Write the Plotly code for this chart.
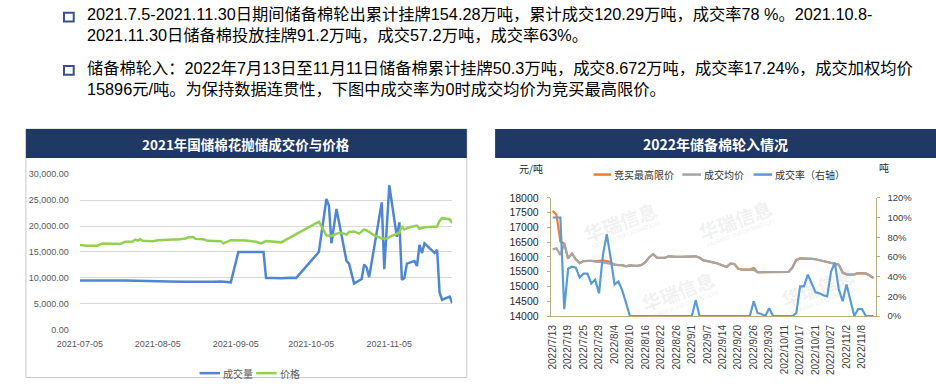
import plotly.graph_objects as go

W, H = 936, 384
def px(x): return x / W
def py(y): return 1 - y / H

FONT = "Noto Sans CJK SC, Noto Sans, sans-serif"
TEXT_FONT = "Liberation Sans, Noto Sans CJK SC, sans-serif"

# ---------------- top text ----------------
text_lines = [
    "2021.7.5-2021.11.30日期间储备棉轮出累计挂牌154.28万吨，累计成交120.29万吨，成交率78 %。2021.10.8-",
    "2021.11.30日储备棉投放挂牌91.2万吨，成交57.2万吨，成交率63%。",
    "储备棉轮入：2022年7月13日至11月11日储备棉累计挂牌50.3万吨，成交8.672万吨，成交率17.24%，成交加权均价",
    "15896元/吨。为保持数据连贯性，下图中成交率为0时成交均价为竞买最高限价。",
]

# ---------------- left chart (2021) ----------------
left_title = "2021年国储棉花抛储成交价与价格"
vol_name = "成交量"
price_name = "价格"
vol_dates = [
    "2021-07-05", "2021-07-09", "2021-07-15", "2021-07-23", "2021-07-30", "2021-08-04",
    "2021-08-09", "2021-08-16", "2021-08-23", "2021-08-27", "2021-08-30", "2021-09-02",
    "2021-09-03", "2021-09-06", "2021-09-09", "2021-09-13", "2021-09-16", "2021-09-17",
    "2021-09-20", "2021-09-23", "2021-09-27", "2021-09-29", "2021-10-08", "2021-10-11",
    "2021-10-12", "2021-10-13", "2021-10-15", "2021-10-17", "2021-10-19", "2021-10-20",
    "2021-10-22", "2021-10-25", "2021-10-26", "2021-10-27", "2021-10-28", "2021-11-02",
    "2021-11-03", "2021-11-05", "2021-11-08", "2021-11-09", "2021-11-10", "2021-11-11",
    "2021-11-12", "2021-11-14", "2021-11-15", "2021-11-16", "2021-11-17", "2021-11-18",
    "2021-11-19", "2021-11-23", "2021-11-24", "2021-11-25", "2021-11-26", "2021-11-29",
    "2021-11-30",
]
vol_values = [
    9500, 9550, 9500, 9500, 9480, 9400,
    9330, 9250, 9200, 9250, 9300, 9200,
    9150, 15000, 15050, 15000, 15000, 10000,
    10000, 9950, 10050, 10000, 15000, 25200,
    23950, 16650, 23300, 18200, 13250, 12750,
    8900, 9800, 12600, 12000, 10150, 24550,
    11700, 27850, 17900, 20700, 9650, 10000,
    12750, 13100, 13250, 12300, 16350, 14800,
    16650, 14800, 15400, 7150, 5800, 6400,
    5150,
]
price_dates = [
    "2021-07-05", "2021-07-08", "2021-07-12", "2021-07-14", "2021-07-19", "2021-07-21",
    "2021-07-23", "2021-07-26", "2021-07-27", "2021-07-28", "2021-07-29", "2021-07-30",
    "2021-08-03", "2021-08-05", "2021-08-11", "2021-08-13", "2021-08-16", "2021-08-17",
    "2021-08-19", "2021-08-20", "2021-08-23", "2021-08-24", "2021-08-25", "2021-08-30",
    "2021-08-31", "2021-09-03", "2021-09-06", "2021-09-09", "2021-09-13", "2021-09-15",
    "2021-09-17", "2021-09-23", "2021-10-08", "2021-10-11", "2021-10-13", "2021-10-15",
    "2021-10-17", "2021-10-19", "2021-10-20", "2021-10-22", "2021-10-24", "2021-10-26",
    "2021-10-27", "2021-10-30", "2021-11-02", "2021-11-04", "2021-11-06", "2021-11-09",
    "2021-11-10", "2021-11-11", "2021-11-13", "2021-11-16", "2021-11-17", "2021-11-19",
    "2021-11-24", "2021-11-25", "2021-11-26", "2021-11-28", "2021-11-29", "2021-11-30",
]
price_values = [
    16340, 16220, 16220, 16650, 16600, 16530,
    16960, 17020, 17390, 17200, 17450, 17140,
    17080, 17270, 17390, 17390, 17580, 17830,
    17890, 17520, 17450, 17270, 17140, 17080,
    16650, 17270, 17280, 17200, 16960, 16660,
    17090, 16850, 20820, 18210, 18090, 18530,
    18710, 18340, 18840, 18960, 18530, 19330,
    19140, 18210, 17590, 17590, 18090, 18710,
    19960, 19330, 19770, 20080, 19460, 19770,
    19900, 21010, 21510, 21310, 21310, 20580,
]
left_ticks = ["2021-07-05", "2021-08-05", "2021-09-05", "2021-10-05", "2021-11-05"]

# ---------------- right chart (2022) ----------------
right_title = "2022年储备棉轮入情况"
max_name = "竞买最高限价"
avg_name = "成交均价"
rate_name = "成交率（右轴）"
cats = [
    "2022/7/13", "2022/7/14", "2022/7/15", "2022/7/18", "2022/7/19", "2022/7/20", "2022/7/21",
    "2022/7/22", "2022/7/25", "2022/7/26", "2022/7/27", "2022/7/28", "2022/7/29", "2022/8/1",
    "2022/8/2", "2022/8/3", "2022/8/4", "2022/8/5", "2022/8/8", "2022/8/9", "2022/8/10",
    "2022/8/11", "2022/8/12", "2022/8/15", "2022/8/16", "2022/8/17", "2022/8/18", "2022/8/19",
    "2022/8/22", "2022/8/23", "2022/8/24", "2022/8/25", "2022/8/26", "2022/8/29", "2022/8/30",
    "2022/8/31", "2022/9/1", "2022/9/2", "2022/9/5", "2022/9/6", "2022/9/7", "2022/9/8",
    "2022/9/9", "2022/9/13", "2022/9/14", "2022/9/15", "2022/9/16", "2022/9/19", "2022/9/20",
    "2022/9/21", "2022/9/22", "2022/9/23", "2022/9/26", "2022/9/27", "2022/9/28", "2022/9/29",
    "2022/9/30", "2022/10/8", "2022/10/9", "2022/10/10", "2022/10/11", "2022/10/12", "2022/10/13",
    "2022/10/14", "2022/10/17", "2022/10/18", "2022/10/19", "2022/10/20", "2022/10/21", "2022/10/24",
    "2022/10/25", "2022/10/26", "2022/10/27", "2022/10/28", "2022/10/31", "2022/11/1", "2022/11/2",
    "2022/11/3", "2022/11/4", "2022/11/7", "2022/11/8", "2022/11/9", "2022/11/10", "2022/11/11",
]
avg_price = [
    16260, 16290, 16070, 16450, 15950, 16110, 15920,
    15790, 15860, 15870, 15870, 15850, 15820, 15810,
    15790, 15760, 15730, 15720, 15720, 15680, 15710,
    15700, 15700, 15730, 15820, 15990, 16090, 15970,
    15960, 15970, 16020, 16000, 16000, 16000, 16000,
    16000, 16000, 16020, 15970, 15880, 15860, 15840,
    15800, 15760, 15700, 15660, 15770, 15760, 15600,
    15570, 15570, 15570, 15560, 15480, 15480, 15480,
    15480, 15480, 15480, 15480, 15480, 15490, 15640,
    15900, 15950, 15950, 15940, 15930, 15920, 15890,
    15870, 15840, 15800, 15780, 15740, 15470, 15410,
    15400, 15410, 15450, 15440, 15440, 15370, 15280,
]
max_price = [
    17560, 17420, 16520, 16450, 15950, 16110, 15920,
    15790, 15860, 15870, 15870, 15850, 15870, 15880,
    15860, 15830, 15730, 15720, 15720, 15680, 15710,
    15700, 15700, 15730, 15820, 15990, 16090, 15970,
    15960, 15970, 16020, 16000, 16000, 16000, 16000,
    16000, 16000, 16020, 15970, 15880, 15860, 15840,
    15800, 15760, 15700, 15660, 15770, 15760, 15600,
    15570, 15570, 15570, 15620, 15480, 15480, 15480,
    15480, 15480, 15480, 15480, 15480, 15490, 15640,
    15900, 15950, 15950, 15940, 15930, 15920, 15890,
    15870, 15840, 15800, 15780, 15740, 15470, 15410,
    15400, 15410, 15450, 15440, 15440, 15370, 15280,
]
deal_rate = [
    100, 100, 100, 7, 48, 50, 49,
    39, 43, 43, 33, 37, 23, 62,
    83, 59, 32, 35, 26, 13, 0,
    0, 0, 0, 0, 0, 0, 0,
    0, 0, 0, 0, 0, 0, 0,
    0, 0, 16, 0, 0, 0, 0,
    0, 0, 0, 0, 0, 0, 0,
    0, 0, 0, 15, 3, 2, 0,
    8, 0, 0, 0, 0, 0, 0,
    3, 30, 30, 42, 33, 24, 23,
    21, 20, 45, 54, 27, 15, 32,
    16, 0, 7, 7, 0, 0, 0,
]

C_VOL = "#4e86d4"
C_PRICE = "#92d050"
C_MAX = "#ed7d31"
C_AVG = "#a5a5a5"
C_RATE = "#5b9bd5"
NAVY = "#1f3864"
AXC = "#b8ab80"

fig = go.Figure()

# left traces
fig.add_trace(go.Scatter(x=vol_dates, y=vol_values, name=vol_name, mode="lines",
                         line=dict(color=C_VOL, width=2.5), xaxis="x", yaxis="y", showlegend=False))
fig.add_trace(go.Scatter(x=price_dates, y=price_values, name=price_name, mode="lines",
                         line=dict(color=C_PRICE, width=2.5), xaxis="x", yaxis="y", showlegend=False))
# right traces
fig.add_trace(go.Scatter(x=cats, y=max_price, name=max_name, mode="lines",
                         line=dict(color=C_MAX, width=2.2), xaxis="x2", yaxis="y2", showlegend=False))
fig.add_trace(go.Scatter(x=cats, y=avg_price, name=avg_name, mode="lines",
                         line=dict(color=C_AVG, width=2.2), xaxis="x2", yaxis="y2", showlegend=False))
fig.add_trace(go.Scatter(x=cats, y=deal_rate, name=rate_name, mode="lines",
                         line=dict(color=C_RATE, width=2.2), xaxis="x2", yaxis="y3", showlegend=False))

tickfont_l = dict(family="Liberation Sans, Noto Sans CJK SC", size=9, color="#595959")
tickfont_r = dict(family="Liberation Sans, Noto Sans CJK SC", size=10, color="#404040")

fig.update_layout(
    width=W, height=H, autosize=False,
    margin=dict(l=0, r=0, t=0, b=0),
    paper_bgcolor="white", plot_bgcolor="rgba(0,0,0,0)",
    font=dict(family=FONT),
    showlegend=False,
    xaxis=dict(type="date", domain=[px(58.3), px(440)], anchor="y",
               range=["2021-07-05", "2021-11-30"],
               tickvals=left_ticks, ticktext=left_ticks, tickfont=tickfont_l,
               showgrid=False, zeroline=False, showline=False, ticks="",
               ticklabelstandoff=7),
    yaxis=dict(domain=[py(334.3), py(173.5)], anchor="x", range=[0, 30000], dtick=5000,
               tickformat=",.2f", tickfont=tickfont_l, gridcolor="#d9d9d9", gridwidth=1.2,
               zeroline=False, showline=False, ticks="", ticklabelstandoff=10),
    xaxis2=dict(type="category", domain=[px(541), px(874)], anchor="y2",
                range=[-0.5, len(cats) - 0.5],
                tickvals=cats[::4], ticktext=cats[::4], tickangle=-90, tickfont=tickfont_r,
                showline=True, linecolor=AXC, linewidth=1, showgrid=False, zeroline=False,
                ticks="", ticklabelstandoff=4),
    yaxis2=dict(domain=[py(320), py(198)], anchor="x2", range=[14000, 18000], dtick=500,
                tickformat="d",
                tickfont=dict(family="Liberation Sans, Noto Sans CJK SC", size=10.5, color="#262626"),
                showline=True, linecolor=AXC, linewidth=1, ticks="outside", ticklen=3,
                tickcolor=AXC, showgrid=False, zeroline=False, ticklabelstandoff=6),
    yaxis3=dict(overlaying="y2", side="right", anchor="x2", range=[0, 120], dtick=20,
                tickformat="d", ticksuffix="%",
                tickfont=dict(family="Liberation Sans, Noto Sans CJK SC", size=9.5, color="#404040"),
                showline=True, linecolor=AXC, linewidth=1, ticks="outside", ticklen=3,
                tickcolor=AXC, showgrid=False, zeroline=False, ticklabelstandoff=6),
)

shapes = []
ann = []

# bullets + paragraph text (one annotation per bullet, lines joined with <br>)
for yb, (l1, l2), yc in ((7, text_lines[0:2], 19), (62, text_lines[2:4], 74.5)):
    shapes.append(dict(type="rect", xref="paper", yref="paper", x0=px(42), x1=px(52),
                       y0=py(yb + 9), y1=py(yb), line=dict(color="#3a4f8e", width=2),
                       fillcolor="white"))
    ann.append(dict(text=l1 + "<br>" + l2, x=px(64), y=py(yc), xref="paper", yref="paper",
                    xanchor="left", yanchor="middle", align="left", showarrow=False,
                    font=dict(family=TEXT_FONT, size=16.25, color="#000000")))

# left frame + title bar
shapes.append(dict(type="rect", xref="paper", yref="paper", x0=px(3), x1=px(455),
                   y0=py(383.5), y1=py(127), line=dict(color="#c8c8c8", width=1), fillcolor="rgba(0,0,0,0)"))
shapes.append(dict(type="rect", xref="paper", yref="paper", x0=px(3), x1=px(455),
                   y0=py(157), y1=py(127), line=dict(width=0), fillcolor=NAVY))
ann.append(dict(text="<b>" + left_title + "</b>", x=px(229), y=py(142), xref="paper", yref="paper",
                xanchor="center", yanchor="middle", showarrow=False,
                font=dict(family=FONT, size=13.5, color="white")))

# right title bar
shapes.append(dict(type="rect", xref="paper", yref="paper", x0=px(484), x1=px(936),
                   y0=py(157), y1=py(127), line=dict(width=0), fillcolor=NAVY))
ann.append(dict(text="<b>" + right_title + "</b>", x=px(710), y=py(142), xref="paper", yref="paper",
                xanchor="center", yanchor="middle", showarrow=False,
                font=dict(family=FONT, size=14, color="white")))

# unit labels
ann.append(dict(text="元/吨", x=px(506), y=py(168), xref="paper", yref="paper",
                xanchor="left", yanchor="middle", showarrow=False,
                font=dict(family=FONT, size=10, color="#262626")))
ann.append(dict(text="吨", x=px(876), y=py(167), xref="paper", yref="paper",
                xanchor="left", yanchor="middle", showarrow=False,
                font=dict(family=FONT, size=10, color="#262626")))

# manual legends
def legend_item(x0, x1, y, color, label, fcolor):
    shapes.append(dict(type="line", xref="paper", yref="paper", x0=px(x0), x1=px(x1),
                       y0=py(y), y1=py(y), line=dict(color=color, width=2.5)))
    ann.append(dict(text=label, x=px(x1 + 1), y=py(y), xref="paper", yref="paper",
                    xanchor="left", yanchor="middle", showarrow=False,
                    font=dict(family=FONT, size=10, color=fcolor)))

legend_item(181, 202, 379, C_VOL, vol_name, "#595959")
legend_item(239, 260, 379, C_PRICE, price_name, "#595959")
legend_item(585, 603, 174, C_MAX, max_name, "#333333")
legend_item(676, 695, 174, C_AVG, avg_name, "#333333")
legend_item(749, 768, 174, C_RATE, rate_name, "#333333")

# faint watermark
for (wx, wy) in ((612, 222), (730, 220), (672, 294), (815, 290)):
    ann.append(dict(text="<b>华瑞信息</b>", x=px(wx), y=py(wy), xref="paper", yref="paper",
                    xanchor="center", yanchor="middle", showarrow=False, textangle=-20,
                    font=dict(family=FONT, size=19, color="rgba(170,170,170,0.18)")))
    ann.append(dict(text="HUARUI INFORMATION", x=px(wx + 6), y=py(wy + 14), xref="paper", yref="paper",
                    xanchor="center", yanchor="middle", showarrow=False, textangle=-20,
                    font=dict(family="Liberation Sans", size=6.5, color="rgba(170,170,170,0.22)")))

fig.update_layout(shapes=shapes, annotations=ann)

fig.write_html("out.html", config={"displayModeBar": False},
               post_script="document.body.style.margin='0';document.body.style.overflow='hidden';")
